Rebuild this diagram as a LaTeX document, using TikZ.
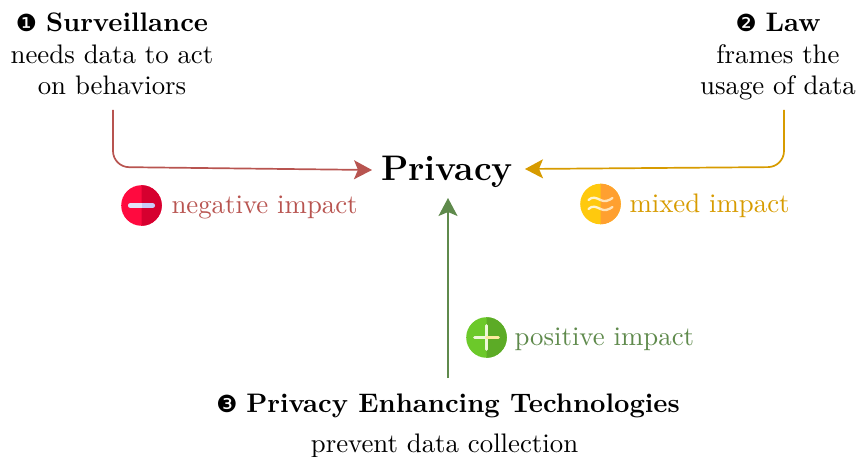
\documentclass[tikz,border=0pt]{standalone}
\usepackage{fontspec}
\newfontfamily\symfont{DejaVu Sans}
\usetikzlibrary{arrows.meta}
\definecolor{cred}{HTML}{B85450}
\definecolor{cyel}{HTML}{D79B00}
\definecolor{cgrn}{HTML}{5F8A4C}
\definecolor{ired}{HTML}{FF0A3F}
\definecolor{iredd}{HTML}{D6002F}
\definecolor{iyel}{HTML}{FFC90E}
\definecolor{iyeld}{HTML}{FFA030}
\definecolor{igrn}{HTML}{6CC92A}
\definecolor{igrnd}{HTML}{5CAB26}
\definecolor{barl}{HTML}{E4E4FA}
\definecolor{barr}{HTML}{C8CCF8}
\definecolor{wavl}{HTML}{FFF4D0}
\definecolor{wavr}{HTML}{FFE4B8}
\definecolor{plul}{HTML}{EEF8D8}
\definecolor{plur}{HTML}{FDEB9F}
\tikzset{
  body/.style={align=center,inner sep=0pt,scale=2.68,transform shape,font=\fontsize{10}{11.8}\selectfont,text=black},
  impact/.style={anchor=west,inner sep=0pt,scale=2.68,transform shape,font=\fontsize{10}{12}\selectfont},
  headtip/.tip={Stealth[length=18pt,width=19pt,inset=4pt]},
  link/.style={line width=1.7pt,-headtip,rounded corners=16pt},
}
\newcommand{\numsym}[1]{{\symfont\fontsize{8.8}{8.8}\selectfont #1}}
\newcommand{\halficon}[4]{%
  \begin{scope}[shift={(#1)}]
    \fill[#2] (0,0) circle (20.3);
    \begin{scope}
      \clip (0,-21) rectangle (21,21);
      \fill[#3] (0,0) circle (20.3);
    \end{scope}
    #4
  \end{scope}}
\begin{document}
\begin{tikzpicture}[x=1pt,y=-1pt]
\useasboundingbox (0,0) rectangle (857,457);
\node[body,anchor=north] (surv) at (112,12.5) {\numsym{❶}\ \textbf{Surveillance}\\needs data to act\\on behaviors};
\node[body,anchor=north] (law) at (778,12.5) {\numsym{❷}\ \textbf{Law}\\frames the\\usage of data};
\node[inner sep=0pt,scale=2.96,transform shape,font=\bfseries\large] (priv) at (447,172) {Privacy};
\node[body,anchor=south,font=\fontsize{10}{14.9}\selectfont] (pet) at (448,458.5) {\numsym{❸}\ \textbf{Privacy Enhancing Technologies}\\prevent data collection\kern2.6pt};
\coordinate (s1) at (113,110);
\coordinate (s2) at (113,167);
\coordinate (l1) at (784,110);
\coordinate (l2) at (784,167);
\coordinate (pl) at (372,170);
\coordinate (pr) at (525,169);
\coordinate (pb) at (448,198);
\coordinate (p1) at (448,378);
\draw[link,cred] (s1) -- (s2) -- (pl);
\draw[link,cyel] (l1) -- (l2) -- (pr);
\draw[link,cgrn] (p1) -- (pb);
\halficon{141.5,205.5}{ired}{iredd}{
  \begin{scope}
    \clip[rounded corners=2.2pt] (-13.5,-2.4) rectangle (13.5,2.4);
    \fill[barl] (-14,-3) rectangle (0,3);
    \fill[barr] (0,-3) rectangle (14,3);
  \end{scope}}
\halficon{600.5,204}{iyel}{iyeld}{
  \draw[wavl,line width=2.3pt,line cap=round] (-12,-4) .. controls (-8,-8) and (-4,-6) .. (0,-4);
  \draw[wavr,line width=2.3pt,line cap=round] (0,-4) .. controls (4,-2) and (8,-3) .. (12,-6);
  \draw[wavl,line width=2.3pt,line cap=round] (-12,5) .. controls (-8,1) and (-4,3) .. (0,5);
  \draw[wavr,line width=2.3pt,line cap=round] (0,5) .. controls (4,7) and (8,6) .. (12,3);}
\halficon{486.5,337.5}{igrn}{igrnd}{
  \draw[plul,line width=2.8pt,line cap=round] (-12,0) -- (0,0) (0,-12) -- (0,12);
  \draw[plur,line width=2.8pt,line cap=round] (0,0) -- (12,0);}
\node[impact,text=cred] (ni) at (171,207.5) {negative impact};
\node[impact,text=cyel] (mi) at (629,205.5) {mixed impact};
\node[impact,text=cgrn] (pi) at (514,339.5) {positive impact};
\end{tikzpicture}
\end{document}
